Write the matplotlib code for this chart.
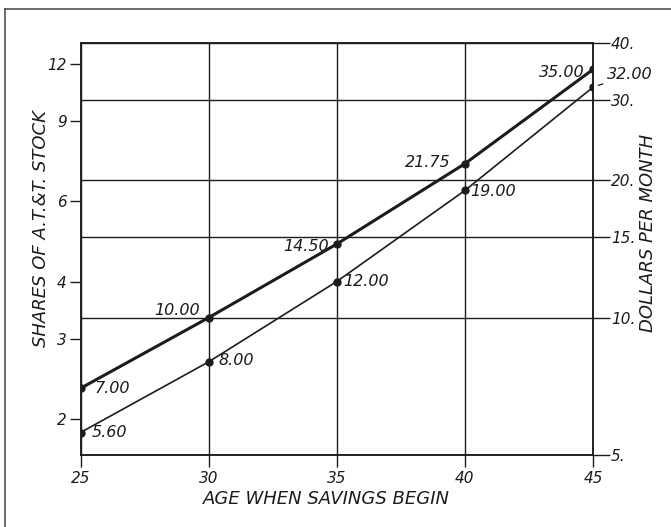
import matplotlib
matplotlib.use("Agg")
import matplotlib.pyplot as plt
from matplotlib.lines import Line2D
from matplotlib.ticker import FixedLocator, FixedFormatter, NullLocator

# data (dollars per month, log scale)
ages = [25, 30, 35, 40, 45]
upper_dollars = [7.00, 10.00, 14.50, 21.75, 35.00]
lower_dollars = [5.60, 8.00, 12.00, 19.00, 32.00]
upper_labels = ["7.00", "10.00", "14.50", "21.75", "35.00"]
lower_labels = ["5.60", "8.00", "12.00", "19.00", "32.00"]

dollar_ticks = [5, 10, 15, 20, 30, 40]
dollar_ticklabels = ["5.", "10.", "15.", "20.", "30.", "40."]
share_ticks = [2, 3, 4, 6, 9, 12]
share_ticklabels = ["2", "3", "4", "6", "9", "12"]
dollars_per_share = 3.0

ink = "#1c1c1c"
font = dict(family="DejaVu Sans", style="italic")

fig = plt.figure(figsize=(6.71, 5.27), dpi=100)
fig.patch.set_facecolor("white")

# outer frame (left and top edges visible)
fig.add_artist(Line2D([5 / 671, 5 / 671], [0, 1 - 9 / 527], transform=fig.transFigure,
                      color="#444444", lw=1.1))
fig.add_artist(Line2D([5 / 671, 1], [1 - 9 / 527, 1 - 9 / 527], transform=fig.transFigure,
                      color="#444444", lw=1.1))

ax = fig.add_axes([80.5 / 671, 72 / 527, 512.5 / 671, 412 / 527])
axr = ax.twinx()

# left: shares
ax.set_xlim(25, 45)
ax.set_yscale("log")
ax.set_ylim(5 / dollars_per_share, 40 / dollars_per_share)
ax.yaxis.set_major_locator(FixedLocator(share_ticks))
ax.yaxis.set_major_formatter(FixedFormatter(share_ticklabels))
ax.yaxis.set_minor_locator(NullLocator())
ax.set_xticks(ages)
ax.set_xticklabels([str(a) for a in ages])
ax.tick_params(axis="y", direction="out", length=8, width=1, pad=2, colors=ink, labelsize=11)
ax.tick_params(axis="x", direction="out", length=8.5, width=1, pad=3, colors=ink, labelsize=11)
ax.grid(axis="x", color=ink, lw=1.0)

# right: dollars
axr.set_yscale("log")
axr.set_ylim(5, 40)
axr.yaxis.set_major_locator(FixedLocator(dollar_ticks))
axr.yaxis.set_major_formatter(FixedFormatter(dollar_ticklabels))
axr.yaxis.set_minor_locator(NullLocator())
axr.tick_params(axis="y", direction="out", length=12, width=1, pad=1, colors=ink, labelsize=11)
axr.grid(axis="y", color=ink, lw=1.0)

for a in (ax, axr):
    for sp in a.spines.values():
        sp.set_color(ink)
        sp.set_linewidth(1.1)
    for lab in a.get_xticklabels() + a.get_yticklabels():
        lab.set_fontstyle("italic")

axr.plot(ages, upper_dollars, color=ink, lw=2.2, marker="o", ms=5, zorder=3)
axr.plot(ages, lower_dollars, color=ink, lw=1.2, marker="o", ms=5, zorder=3)

# value labels (offsets in points)
upper_offsets = [(10, 0, "left"), (-6, 5, "right"), (-6, -2, "right"), (-10, 1, "right"), (-6, -2, "right")]
lower_offsets = [(8, 0, "left"), (7, 1, "left"), (5, 0, "left"), (4, -1, "left"), (10, 9, "left")]

for x, y, t, (dx, dy, ha) in zip(ages, upper_dollars, upper_labels, upper_offsets):
    axr.annotate(t, (x, y), xytext=(dx, dy), textcoords="offset points", ha=ha, va="center",
                 fontsize=11.5, color=ink, **font)
for i, (x, y, t, (dx, dy, ha)) in enumerate(zip(ages, lower_dollars, lower_labels, lower_offsets)):
    arrow = None
    if i == len(ages) - 1:
        arrow = dict(arrowstyle="-", color=ink, lw=0.9, shrinkA=1, shrinkB=4)
    axr.annotate(t, (x, y), xytext=(dx, dy), textcoords="offset points", ha=ha, va="center",
                 fontsize=11.5, color=ink, arrowprops=arrow, **font)

fig.text(326 / 671, 1 - 499 / 527, "AGE WHEN SAVINGS BEGIN", ha="center", va="center",
         fontsize=13, color=ink, **font)
fig.text(41 / 671, 1 - 229 / 527, "SHARES OF A.T.&T. STOCK", rotation=90, ha="center", va="center",
         fontsize=13, color=ink, **font)
fig.text(648 / 671, 1 - 233 / 527, "DOLLARS PER MONTH", rotation=90, ha="center", va="center",
         fontsize=13, color=ink, **font)

fig.savefig("out.png", dpi=100, facecolor="white")
